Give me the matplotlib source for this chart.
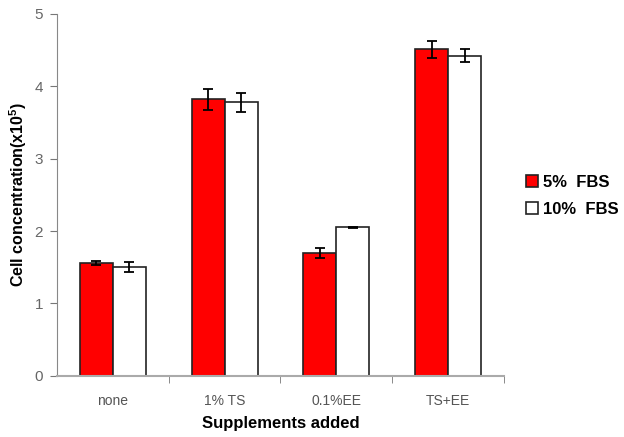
import numpy as np
import matplotlib
matplotlib.use('Agg')
import matplotlib.pyplot as plt

plt.rcParams['font.family'] = ['Liberation Sans', 'DejaVu Sans']
plt.rcParams['mathtext.default'] = 'regular'

# Werte aus dem Versuch: Zellkonzentration je Zusatz
supplements = ['none', '1% TS', '0.1%EE', 'TS+EE']
fbs_5 = [1.56, 3.82, 1.70, 4.51]
fbs_5_err = [0.03, 0.15, 0.07, 0.12]
fbs_10 = [1.50, 3.78, 2.05, 4.42]
fbs_10_err = [0.07, 0.13, 0.01, 0.09]

x = np.arange(len(supplements))
w = 0.295

fig = plt.figure(figsize=(6.24, 4.37), dpi=100)
ax = fig.add_axes([0.091, 0.14, 0.717, 0.828])

ax.bar(x - w / 2, fbs_5, w, color='#ff0000', edgecolor='#222222', linewidth=1.2,
       yerr=fbs_5_err, error_kw=dict(ecolor='black', elinewidth=1.3, capsize=3.5, capthick=1.3),
       label='5%  FBS')
ax.bar(x + w / 2, fbs_10, w, color='white', edgecolor='#222222', linewidth=1.2,
       yerr=fbs_10_err, error_kw=dict(ecolor='black', elinewidth=1.3, capsize=3.5, capthick=1.3),
       label='10%  FBS')

ax.set_xlim(-0.5, 3.5)
ax.set_ylim(0, 5)
ax.set_yticks([0, 1, 2, 3, 4, 5])
ax.set_xticks(x)
ax.set_xticklabels(supplements)
ax.set_xticks([0.5, 1.5, 2.5, 3.5], minor=True)
ax.tick_params(axis='x', which='major', length=0, pad=13, labelsize=10, labelcolor='#555555')
ax.tick_params(axis='x', which='minor', length=5, color='#777777')
ax.tick_params(axis='y', length=5, color='#777777', labelsize=11, labelcolor='#666666', pad=5)

for s in ['top', 'right']:
    ax.spines[s].set_visible(False)
ax.spines['left'].set_color('#888888')
ax.spines['bottom'].set_color('#aaaaaa')
ax.spines['bottom'].set_linewidth(1.5)

ax.set_xlabel('Supplements added', fontsize=12, fontweight='bold', labelpad=6)
ax.set_ylabel('Cell concentration(x10$^{5}$)', fontsize=11.5, fontweight='bold')
ax.yaxis.set_label_coords(-0.062, 0.5)

ax.legend(loc='center left', bbox_to_anchor=(1.015, 0.497), frameon=False,
          prop={'weight': 'bold', 'size': 12}, handlelength=0.7, handleheight=0.7,
          handletextpad=0.3, labelspacing=0.7)

fig.savefig('out.png', dpi=100)
